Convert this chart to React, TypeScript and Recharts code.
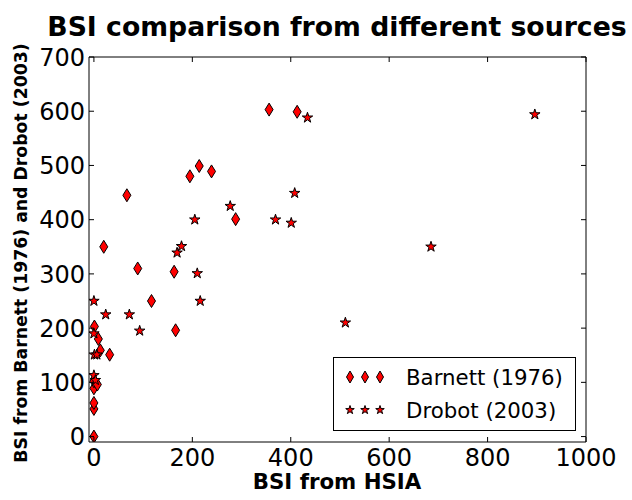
import React from 'react'
import { ScatterChart, Scatter, XAxis, YAxis, Legend } from 'recharts'

// axis ticks
const X_TICKS = [0, 200, 400, 600, 800, 1000]
const Y_TICKS = [0, 100, 200, 300, 400, 500, 600, 700]

// Barnett (1976) — diamonds
const barnettX = [0, 0, 0, 0, 0, 7, 1, 9, 13, 32, 20, 89, 117, 163, 166, 67, 195, 214, 239, 288, 356, 413]
const barnettY = [0, 51, 62, 89, 102, 96, 203, 180, 159, 151, 350, 310, 250, 304, 196, 445, 480, 499, 489, 401, 603, 599]

// Drobot (2003) — stars
const drobotX = [0, 24, 72, 93, 169, 178, 210, 216, 0, 1, 6, 0, 3, 205, 277, 369, 401, 408, 434, 511, 685, 896]
const drobotY = [250, 225, 225, 195, 339, 351, 301, 250, 190, 151, 151, 113, 104, 400, 425, 400, 394, 449, 588, 210, 350, 594]

const barnett = barnettX.map((x, i) => ({ x, y: barnettY[i] }))
const drobot = drobotX.map((x, i) => ({ x, y: drobotY[i] }))

const FONT = '"DejaVu Sans", sans-serif'
const RED = '#ff0000'

const diamondPath = (cx: number, cy: number, w = 4, h = 6.5) =>
  `M${cx},${cy - h}L${cx + w},${cy}L${cx},${cy + h}L${cx - w},${cy}Z`

const starPath = (cx: number, cy: number, r = 5.5) => {
  const ri = r * 0.382
  let d = ''
  for (let k = 0; k < 10; k++) {
    const a = -Math.PI / 2 + (k * Math.PI) / 5
    const rr = k % 2 === 0 ? r : ri
    d += (k === 0 ? 'M' : 'L') + (cx + rr * Math.cos(a)).toFixed(2) + ',' + (cy + rr * Math.sin(a)).toFixed(2)
  }
  return d + 'Z'
}

const Diamond = ({ cx, cy }: any) => <path d={diamondPath(cx, cy)} fill={RED} stroke="#000" strokeWidth={1} />
const Star = ({ cx, cy }: any) => <path d={starPath(cx, cy)} fill={RED} stroke="#000" strokeWidth={1} />

const BottomTick = ({ x, y, payload }: any) => (
  <g>
    <line x1={x} y1={y} x2={x} y2={y - 5} stroke="#000" />
    <text x={x} y={y + 24} textAnchor="middle" fontSize={24} fontFamily={FONT} fill="#000">{payload.value}</text>
  </g>
)
const TopTick = ({ x, y }: any) => <line x1={x} y1={y} x2={x} y2={y + 5} stroke="#000" />
const LeftTick = ({ x, y, payload }: any) => (
  <g>
    <line x1={x} y1={y} x2={x + 5} y2={y} stroke="#000" />
    <text x={x - 4} y={y + 8.7} textAnchor="end" fontSize={24} fontFamily={FONT} fill="#000">{payload.value}</text>
  </g>
)
const RightTick = ({ x, y }: any) => <line x1={x} y1={y} x2={x - 5} y2={y} stroke="#000" />

const LegendBox = () => (
  <div style={{ width: 243, height: 74, boxSizing: 'border-box', border: '1px solid #000', background: '#fff' }}>
    <svg width={241} height={72} style={{ display: 'block' }}>
      {[16, 31, 46].map((cx) => <path key={'d' + cx} d={diamondPath(cx, 19, 3.5, 6)} fill={RED} stroke="#000" />)}
      {[16, 31, 46].map((cx) => <path key={'s' + cx} d={starPath(cx, 52, 4.5)} fill={RED} stroke="#000" />)}
      <text x={72} y={27} fontSize={21.3} fontFamily={FONT} fill="#000">Barnett (1976)</text>
      <text x={72} y={60} fontSize={21.3} fontFamily={FONT} fill="#000">Drobot (2003)</text>
    </svg>
  </div>
)

export default function App() {
  return (
    <div style={{ position: 'absolute', left: 0, top: 0, width: 632, height: 500, background: '#fff' }}>
      <ScatterChart width={632} height={500} margin={{ top: 47, right: 36, bottom: 8, left: 9 }}>
        <XAxis xAxisId={0} dataKey="x" type="number" domain={[-10, 1000]} ticks={X_TICKS} interval={0}
          allowDataOverflow height={50} tickSize={0} tickMargin={0} tickLine={false}
          axisLine={{ stroke: '#000' }} tick={<BottomTick />} />
        <XAxis xAxisId="top" orientation="top" dataKey="x" type="number" domain={[-10, 1000]} ticks={X_TICKS} interval={0}
          allowDataOverflow height={10} tickSize={0} tickMargin={0} tickLine={false}
          axisLine={{ stroke: '#000' }} tick={<TopTick />} />
        <YAxis yAxisId={0} dataKey="y" type="number" domain={[-10, 700]} ticks={Y_TICKS} interval={0}
          allowDataOverflow width={80} tickSize={0} tickMargin={0} tickLine={false}
          axisLine={{ stroke: '#000' }} tick={<LeftTick />} />
        <YAxis yAxisId="right" orientation="right" dataKey="y" type="number" domain={[-10, 700]} ticks={Y_TICKS} interval={0}
          allowDataOverflow width={10} tickSize={0} tickMargin={0} tickLine={false}
          axisLine={{ stroke: '#000' }} tick={<RightTick />} />
        <Legend layout="vertical" verticalAlign="middle" align="center" content={<LegendBox />}
          wrapperStyle={{ left: 333, top: 357, width: 243, height: 74 }} />
        <Scatter name="Barnett (1976)" data={barnett} shape={<Diamond />} isAnimationActive={false} />
        <Scatter name="Drobot (2003)" data={drobot} shape={<Star />} isAnimationActive={false} />
      </ScatterChart>
      <svg width={632} height={500} style={{ position: 'absolute', left: 0, top: 0, pointerEvents: 'none' }}>
        <text x={337} y={36} textAnchor="middle" fontSize={26.7} fontWeight="bold" fontFamily={FONT} fill="#000">
          BSI comparison from different sources
        </text>
        <text x={337} y={489} textAnchor="middle" fontSize={21.3} fontWeight="bold" fontFamily={FONT} fill="#000">
          BSI from HSIA
        </text>
        <text transform="translate(27,253) rotate(-90)" textAnchor="middle" fontSize={17.3} fontWeight="bold" fontFamily={FONT} fill="#000">
          BSI from Barnett (1976) and Drobot (2003)
        </text>
      </svg>
    </div>
  )
}
